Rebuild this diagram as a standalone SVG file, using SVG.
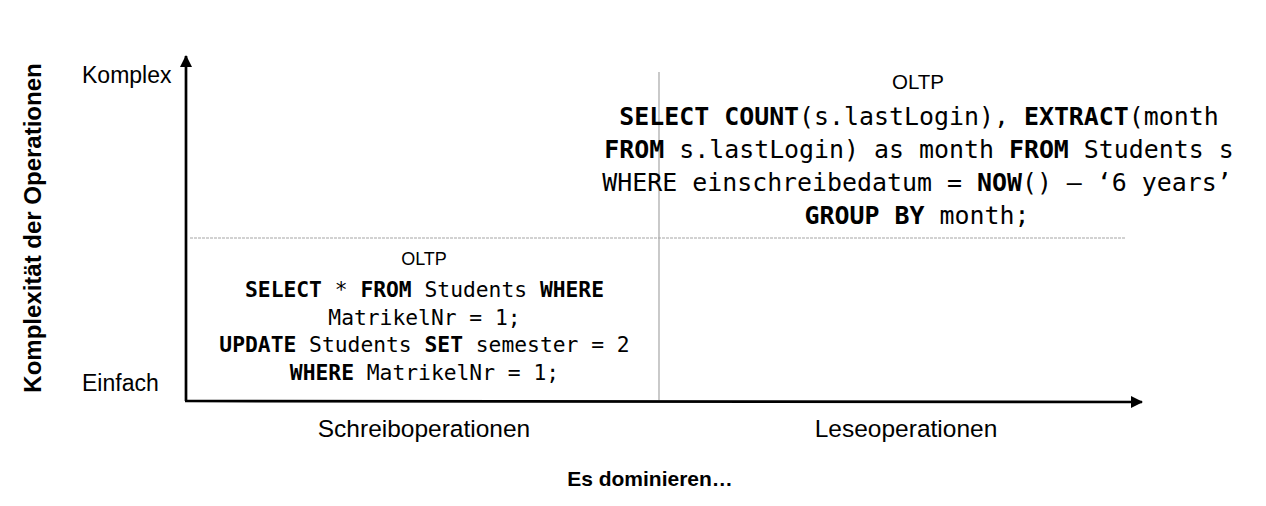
<svg xmlns="http://www.w3.org/2000/svg" width="1266" height="506" viewBox="0 0 1266 506">
<style>
.sans{font-family:"Liberation Sans",Arial,sans-serif;fill:#000}
.mono{font-family:"DejaVu Sans Mono","Liberation Mono",monospace;fill:#000;text-anchor:middle}
.b{font-weight:bold}
.grid{stroke:#a6a6a6;stroke-width:1.2;fill:none}
.axis{stroke:#000;stroke-width:2.7;fill:none}
</style>
<defs>
<marker id="arrow" viewBox="0 0 12 12" refX="11" refY="6" markerWidth="12" markerHeight="12" markerUnits="userSpaceOnUse" orient="auto">
<path d="M0,0 L12,6 L0,12 Z" fill="#000"/>
</marker>
</defs>
<rect width="1266" height="506" fill="#fff"/>
<g id="grid">
<line class="grid" x1="659" y1="72" x2="659" y2="400"/>
<line class="grid" x1="190" y1="238" x2="1125" y2="238" stroke="#b8b8b8" stroke-width="1.8" stroke-dasharray="3 1"/>
</g>
<g id="connectors">
<line class="axis" x1="186" y1="401" x2="186" y2="56" marker-end="url(#arrow)"/>
<line class="axis" x1="185" y1="401" x2="1142" y2="402" marker-end="url(#arrow)"/>
</g>
<g id="axis-labels">
<text class="sans" x="82" y="83" font-size="23">Komplex</text>
<text class="sans" x="82" y="391" font-size="23">Einfach</text>
<text class="sans" x="424" y="437" font-size="24.5" text-anchor="middle">Schreiboperationen</text>
<text class="sans" x="906" y="437" font-size="24.5" text-anchor="middle">Leseoperationen</text>
<text class="sans b" x="650" y="486" font-size="21" text-anchor="middle">Es dominieren…</text>
<text class="sans b" transform="translate(41,228) rotate(-90)" font-size="24" text-anchor="middle">Komplexität der Operationen</text>
</g>
<g id="q-simple-write">
<text class="sans" x="424" y="265" font-size="18" text-anchor="middle">OLTP</text>
<text class="mono" x="424.5" y="297" font-size="21.3"><tspan class="b">SELECT</tspan> * <tspan class="b">FROM</tspan> Students <tspan class="b">WHERE</tspan></text>
<text class="mono" x="424.5" y="325" font-size="21.3">MatrikelNr = 1;</text>
<text class="mono" x="424.5" y="352" font-size="21.3"><tspan class="b">UPDATE</tspan> Students <tspan class="b">SET</tspan> semester = 2</text>
<text class="mono" x="424.5" y="380" font-size="21.3"><tspan class="b">WHERE</tspan> MatrikelNr = 1;</text>
</g>
<g id="q-complex-read">
<text class="sans" x="918" y="89" font-size="20.5" text-anchor="middle">OLTP</text>
<text class="mono" x="919" y="125" font-size="24.9"><tspan class="b">SELECT</tspan> <tspan class="b">COUNT</tspan>(s.lastLogin), <tspan class="b">EXTRACT</tspan>(month</text>
<text class="mono" x="919" y="158" font-size="24.9"><tspan class="b">FROM</tspan> s.lastLogin) as month <tspan class="b">FROM</tspan> Students s</text>
<text class="mono" x="917" y="191" font-size="24.9">WHERE einschreibedatum = <tspan class="b">NOW</tspan>() – ‘6 years’</text>
<text class="mono" x="917" y="224" font-size="24.9"><tspan class="b">GROUP BY</tspan> month;</text>
</g>
</svg>
